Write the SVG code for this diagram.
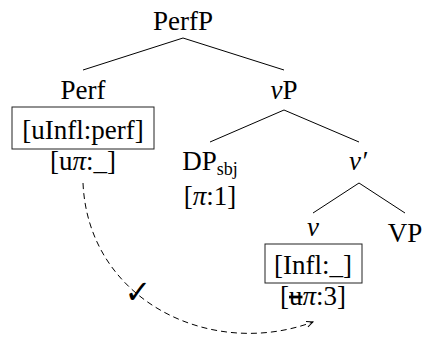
<svg xmlns="http://www.w3.org/2000/svg" width="422" height="337" viewBox="0 0 422 337">
<defs>
<marker id="arr" viewBox="0 0 10 10" refX="9" refY="5" markerWidth="8" markerHeight="8" orient="auto" markerUnits="userSpaceOnUse">
<path d="M1,1.5 L9,5 L1,8.5" fill="none" stroke="#000" stroke-width="1.2"/>
</marker>
</defs>
<g id="connectors" stroke="#000" stroke-width="1" fill="none">
<line x1="183" y1="38" x2="83" y2="70"/>
<line x1="183" y1="38" x2="284" y2="70"/>
<line x1="284" y1="110" x2="210" y2="142"/>
<line x1="284" y1="110" x2="359" y2="142"/>
<line x1="359" y1="183" x2="313" y2="213"/>
<line x1="359" y1="183" x2="405" y2="213"/>
<path d="M83,183 C88,300 210,360 313,322" stroke-dasharray="6 4" marker-end="url(#arr)"/>
</g>
<g id="check"><text x="138" y="303" font-family="DejaVu Sans" font-size="32" font-weight="bold" text-anchor="middle" fill="#000">✓</text></g>
<g font-family="Liberation Serif" font-size="27" text-anchor="middle" fill="#000">
<g id="PerfP"><text x="183" y="30" font-family="Liberation Serif">PerfP</text></g>
<g id="Perf">
<text x="83" y="99" font-family="Liberation Serif">Perf</text>
<rect x="12" y="107" width="142" height="42" fill="none" stroke="#222" stroke-width="1"/>
<text x="83" y="139" font-family="Liberation Serif">[uInfl:perf]</text>
<text x="83" y="170" font-family="Liberation Serif">[u<tspan font-style="italic">π</tspan>:_]</text>
</g>
<g id="vP"><text x="284" y="99" font-family="Liberation Serif"><tspan font-style="italic">v</tspan>P</text></g>
<g id="DPsbj">
<text x="210" y="170" font-family="Liberation Serif">DP<tspan font-size="18" dy="5">sbj</tspan></text>
<text x="210" y="205" font-family="Liberation Serif">[<tspan font-style="italic">π</tspan>:1]</text>
</g>
<g id="vbar"><text x="358" y="170" font-family="Liberation Serif" font-style="italic">v′</text></g>
<g id="v">
<text x="313" y="236" font-family="Liberation Serif" font-style="italic">v</text>
<rect x="265" y="244" width="97" height="39" fill="none" stroke="#222" stroke-width="1"/>
<text x="313" y="274" font-family="Liberation Serif">[Infl:_]</text>
<text x="313" y="305" font-family="Liberation Serif">[<tspan text-decoration="line-through">u</tspan><tspan font-style="italic">π</tspan>:3]</text>
</g>
<g id="VP"><text x="405" y="242" font-family="Liberation Serif">VP</text></g>
</g>
</svg>
